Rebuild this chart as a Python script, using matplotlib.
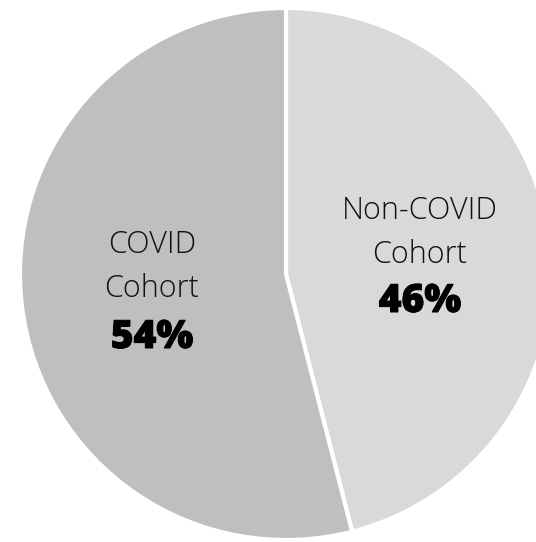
import matplotlib
matplotlib.use('Agg')
import matplotlib.pyplot as plt
import matplotlib.patheffects as path_effects

# data
cohorts = ['Non-COVID\nCohort', 'COVID\nCohort']
shares = [46, 54]
colores = ['#d9d9d9', '#bfbfbf']

W, H = 536, 542
fig = plt.figure(figsize=(W/100, H/100), dpi=100)
ax = fig.add_axes([0, 0, 1, 1])

cx, cy, r = 286, H - 274, 266
wedges, _ = ax.pie(shares, colors=colores, startangle=90, counterclock=False,
                   center=(cx, cy), radius=r, frame=True,
                   wedgeprops=dict(edgecolor='white', linewidth=3))
ax.set_xlim(0, W)
ax.set_ylim(0, H)
ax.set_aspect('equal')
ax.axis('off')

# label positions (x center, baselines in image pixels)
pos = [(420, 219, 263, 312), (152, 253, 297, 348)]
for lab, val, (x, b1, b2, b3) in zip(cohorts, shares, pos):
    l1, l2 = lab.split('\n')
    ax.text(x, H - b1, l1, ha='center', va='baseline', fontsize=22,
            family='Open Sans', fontweight='light', color='#111111')
    ax.text(x, H - b2, l2, ha='center', va='baseline', fontsize=22,
            family='Open Sans', fontweight='light', color='#111111')
    t = ax.text(x, H - b3, str(val) + '%', ha='center', va='baseline', fontsize=28,
                family='Open Sans', fontweight='heavy', color='black')
    t.set_path_effects([path_effects.withStroke(linewidth=0.7, foreground='black')])

plt.savefig('out.png', dpi=100)
